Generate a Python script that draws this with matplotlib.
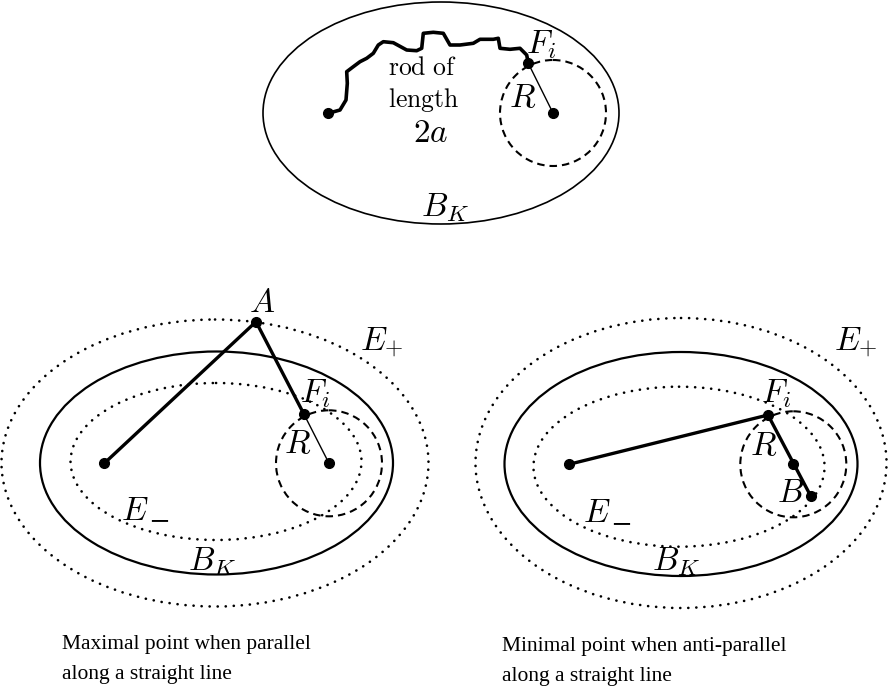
import matplotlib
matplotlib.use("Agg")
import matplotlib.pyplot as plt
from matplotlib.patches import Ellipse, Circle

plt.rcParams['mathtext.fontset'] = 'cm'

# ---------------- data (pixel coordinates of the diagram) ----------------
# top diagram
top_boundary = (441, 113, 356, 222)            # cx, cy, width, height
top_circle = (553, 113, 53)                     # cx, cy, r
rod_x = [328.3, 340, 346, 347.3, 346.7, 353.3, 360, 366.7, 373.3, 378.3, 383.3,
         393.3, 406.7, 416.7, 421.7, 423.3, 433.3, 443.3, 450, 460, 473.3, 480,
         493.3, 498.3, 500, 510, 520, 526.7, 528.3]
rod_y = [113.3, 110, 100, 83.3, 71.7, 66.7, 61.7, 58.3, 53.3, 45, 41.7,
         42.7, 50, 50.7, 48.3, 33.3, 32.3, 33.3, 45, 45, 43.3, 39.3,
         39.3, 38.3, 48.3, 49.3, 48.3, 55, 63.3]
top_points_x = [328.3, 528.3, 553]
top_points_y = [113.3, 63.3, 113]

# bottom-left diagram (maximal point)
L_boundary = (216.5, 463, 353, 223)
L_outer = (215, 463, 427, 287)
L_inner = (216, 461.5, 291, 157)
L_circle = (329, 463.3, 53)
L_focus = (104.3, 463.3)
L_A = (256, 321.7)
L_F = (304, 414.3)

# bottom-right diagram (minimal point)
R_boundary = (681, 464, 353, 224)
R_outer = (681, 463, 411, 290)
R_inner = (679, 466.7, 291, 160)
R_circle = (793.3, 464.3, 53)
R_focus = (569, 464.3)
R_F = (768, 415)
R_B = (810.7, 496)

labels = [
    (r'$F_i$', 541, 45), (r'$R$', 523, 98), (r'$B_K$', 445, 208), (r'$2a$', 431, 132),
    (r'$A$', 262, 302), (r'$E_{+}$', 382, 342), (r'$F_i$', 315, 394), (r'$R$', 298, 443),
    (r'$B_K$', 212, 561),
    (r'$E_{+}$', 856, 342), (r'$F_i$', 776, 394), (r'$R$', 764, 445), (r'$B$', 791, 493),
    (r'$B_K$', 676, 561),
]
# E_- labels: letter and subscript minus placed separately
eminus_labels = [(135, 511, 149, 518), (597, 513, 611, 521)]
captions = [
    ("Maximal point when parallel\nalong a straight line", 62, 635),
    ("Minimal point when anti-parallel\nalong a straight line", 502, 637),
]

# ---------------- drawing ----------------
fig = plt.figure(figsize=(8.88, 6.95), dpi=100)
ax = fig.add_axes([0, 0, 1, 1])
ax.set_xlim(0, 888)
ax.set_ylim(695, 0)
ax.axis('off')

dotted = (0, (0.05, 3.0))
dashed = (0, (3.6, 2.4))


def ell(params, ls='-', lw=1.5):
    cx, cy, w, h = params
    e = Ellipse((cx, cy), w, h, fill=False, ec='black', lw=lw, linestyle=ls)
    if ls != '-':
        e.set_capstyle('round')
    ax.add_patch(e)


def circ(params):
    cx, cy, r = params
    ax.add_patch(Circle((cx, cy), r, fill=False, ec='black', lw=1.5, linestyle=dashed))


# top
ell(top_boundary, lw=1.2)
circ(top_circle)
ax.plot(rod_x, rod_y, color='black', lw=2.6, solid_joinstyle='round', solid_capstyle='round')
ax.plot([top_points_x[1], top_points_x[2]], [top_points_y[1], top_points_y[2]], color='black', lw=1.0)
ax.plot(top_points_x, top_points_y, 'o', color='black', ms=7, ls='none')
ax.text(422, 68, r'$\mathrm{rod\ of}$', fontsize=18.5, ha='center', va='center')
ax.text(424, 100, r'$\mathrm{length}$', fontsize=18.5, ha='center', va='center')

# bottom-left
ell(L_boundary, lw=1.6)
ell(L_outer, ls=dotted, lw=1.9)
ell(L_inner, ls=dotted, lw=1.9)
circ(L_circle)
ax.plot([L_focus[0], L_A[0], L_F[0]], [L_focus[1], L_A[1], L_F[1]], color='black', lw=2.4,
        solid_joinstyle='round')
ax.plot([L_F[0], L_circle[0]], [L_F[1], L_circle[1]], color='black', lw=1.0)
ax.plot([L_focus[0], L_A[0], L_F[0], L_circle[0]], [L_focus[1], L_A[1], L_F[1], L_circle[1]],
        'o', color='black', ms=7, ls='none')

# bottom-right
ell(R_boundary, lw=1.6)
ell(R_outer, ls=dotted, lw=1.9)
ell(R_inner, ls=dotted, lw=1.9)
circ(R_circle)
ax.plot([R_focus[0], R_F[0], R_B[0]], [R_focus[1], R_F[1], R_B[1]], color='black', lw=2.4,
        solid_joinstyle='round')
ax.plot([R_focus[0], R_F[0], R_circle[0], R_B[0]], [R_focus[1], R_F[1], R_circle[1], R_B[1]],
        'o', color='black', ms=7, ls='none')

for s, x, y in labels:
    ax.text(x, y, s, fontsize=24, ha='center', va='center')

for ex, ey, mx, my in eminus_labels:
    ax.text(ex, ey, r'$E$', fontsize=24, ha='center', va='center')
    ax.text(mx, my, r'$\minus$', fontsize=21, ha='left', va='center')

for s, x, y in captions:
    ax.text(x, y, s, fontsize=15.5, family='Liberation Serif', ha='left', va='top',
            linespacing=1.75)

fig.savefig('out.png', dpi=100)
